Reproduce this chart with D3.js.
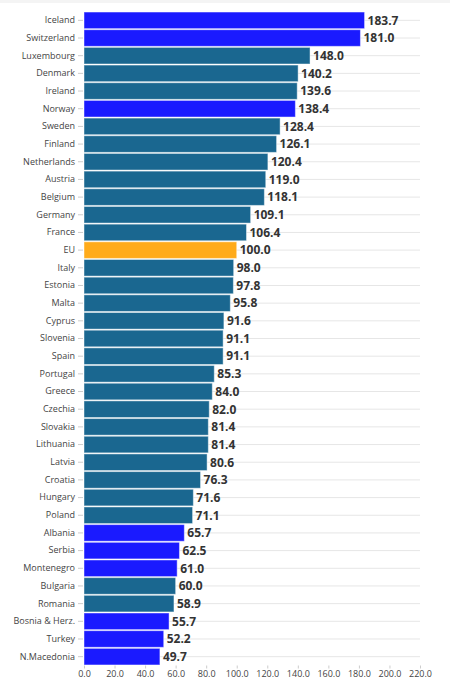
<!DOCTYPE html>
<html>
<head>
<meta charset="utf-8">
<script src="https://cdn.jsdelivr.net/npm/d3@7"></script>
<style>
  body { margin: 0; background: #fff; }
  svg text { font-family: "Open Sans", sans-serif; }
</style>
</head>
<body>
<svg id="chart" width="450" height="683"></svg>
<script>
const countries = ["Iceland","Switzerland","Luxembourg","Denmark","Ireland","Norway","Sweden","Finland",
  "Netherlands","Austria","Belgium","Germany","France","EU","Italy","Estonia","Malta","Cyprus","Slovenia",
  "Spain","Portugal","Greece","Czechia","Slovakia","Lithuania","Latvia","Croatia","Hungary","Poland",
  "Albania","Serbia","Montenegro","Bulgaria","Romania","Bosnia & Herz.","Turkey","N.Macedonia"];
const values = [183.7,181.0,148.0,140.2,139.6,138.4,128.4,126.1,120.4,119.0,118.1,109.1,106.4,100.0,
  98.0,97.8,95.8,91.6,91.1,91.1,85.3,84.0,82.0,81.4,81.4,80.6,76.3,71.6,71.1,
  65.7,62.5,61.0,60.0,58.9,55.7,52.2,49.7];
const groups = ["non","non","eu","eu","eu","non","eu","eu","eu","eu","eu","eu","eu","avg",
  "eu","eu","eu","eu","eu","eu","eu","eu","eu","eu","eu","eu","eu","eu","eu",
  "non","non","non","eu","eu","non","non","non"];
const xTicks = [0,20,40,60,80,100,120,140,160,180,200,220];

const data = countries.map((c, i) => ({ country: c, value: values[i], group: groups[i] }));

const margin = { top: 11.5, right: 30, bottom: 17.5, left: 84 };
const W = 450, H = 683;
const svg = d3.select("#chart");
const chart = svg.append("g");

var x = d3.scaleLinear().domain([0, 220]).range([margin.left, W - margin.right]);
var y = d3.scaleBand().domain(countries).range([margin.top, H - margin.bottom]).paddingInner(0.06).paddingOuter(0.03);

var color = d3.scaleOrdinal()
    .domain(["eu", "non", "avg"])
    .range(["#1a6790", "#1a1aff", "#ffab1a"]);

// faint top edge
svg.append("rect").attr("x", 0).attr("y", 0).attr("width", W).attr("height", 3).attr("fill", "#f4f4f4");

// row gridlines
chart.selectAll("line.grid").data(countries)
    .join("line")
    .attr("class", "grid")
    .attr("x1", margin.left)
    .attr("x2", x(220))
    .attr("y1", d => y(d) + y.bandwidth() / 2)
    .attr("y2", d => y(d) + y.bandwidth() / 2)
    .attr("stroke", "#e6e6e6")
    .attr("stroke-width", 1);

// bars
chart.selectAll("rect.bar").data(data)
    .join("rect")
    .attr("class", "bar")
    .attr("x", x(0))
    .attr("y", d => y(d.country))
    .attr("width", d => x(d.value) - x(0))
    .attr("height", y.bandwidth())
    .attr("fill", d => color(d.group))
    .attr("stroke", "rgba(255,255,255,0.45)")
    .attr("stroke-width", 1);

// value labels
chart.selectAll("text.val").data(data)
    .join("text")
    .attr("class", "val")
    .attr("x", d => x(d.value) + 3)
    .attr("y", d => y(d.country) + y.bandwidth() / 2)
    .attr("dy", "0.36em")
    .attr("font-size", 12)
    .attr("font-weight", "bold")
    .attr("fill", "#333")
    .text(d => d.value.toFixed(1));

// y axis
const yAxis = chart.append("g")
    .attr("transform", `translate(${margin.left - 1},0)`)
    .call(d3.axisLeft(y).tickSize(5).tickPadding(3));
yAxis.select(".domain").remove();
yAxis.selectAll("line").attr("stroke", "#ccc");
yAxis.selectAll("text").attr("font-size", 9).attr("fill", "#444").style("font-family", "'Open Sans', sans-serif");

// x axis
const xAxis = chart.append("g")
    .attr("transform", `translate(0,${H - margin.bottom})`)
    .call(d3.axisBottom(x).tickValues(xTicks).tickFormat(d3.format(".1f")).tickSize(3).tickPadding(2));
xAxis.select(".domain").remove();
xAxis.selectAll("line").attr("stroke", "#ccc");
xAxis.selectAll("text").attr("font-size", 9).attr("fill", "#444").style("font-family", "'Open Sans', sans-serif");
</script>
</body>
</html>
